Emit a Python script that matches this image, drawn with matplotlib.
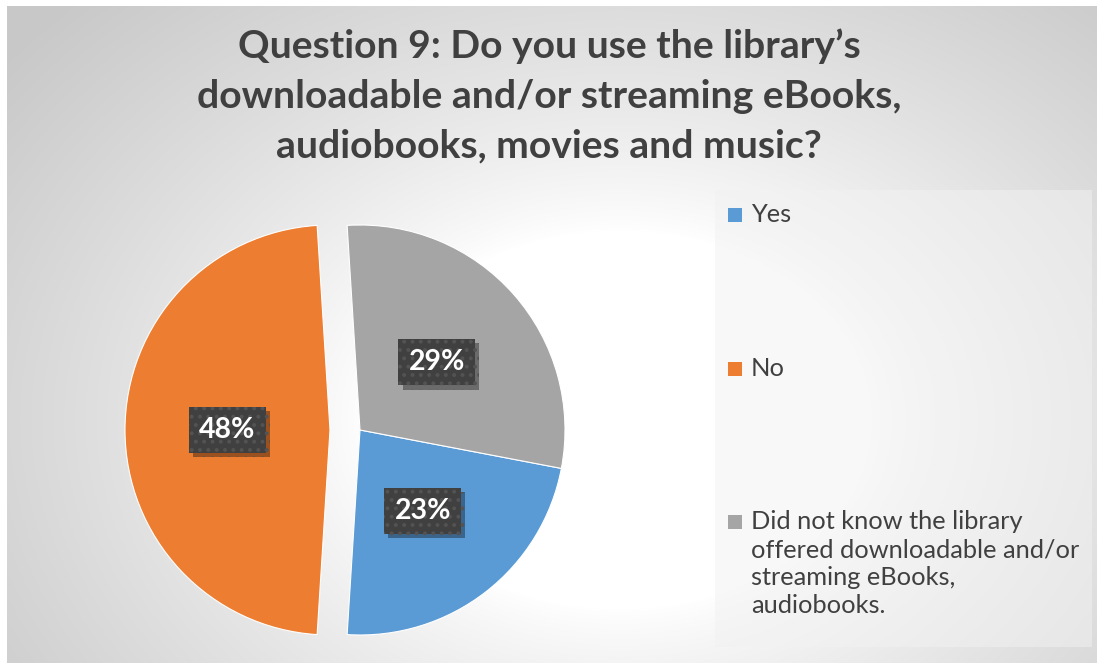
import numpy as np
import matplotlib
matplotlib.use("Agg")
import matplotlib.pyplot as plt
from matplotlib.patches import Rectangle
import matplotlib.patheffects as pe

# ---- data ----
categories = ["Yes", "No", "Did not know the library\noffered downloadable and/or\nstreaming eBooks,\naudiobooks."]
values = [23, 48, 29]
colors = ["#5B9BD5", "#ED7D31", "#A5A5A5"]
title_lines = ["Question 9: Do you use the library\u2019s",
               "downloadable and/or streaming eBooks,",
               "audiobooks, movies and music?"]

W, H = 1097, 663
plt.rcParams['font.family'] = ['Lato', 'DejaVu Sans']
plt.rcParams['hatch.linewidth'] = 1.6
fig = plt.figure(figsize=(W / 100, H / 100), dpi=100)
fig.patch.set_facecolor("white")
ax = fig.add_axes([0, 0, 1, 1])

def Y(y):
    return H - y

# background gradient (chart area from x=7, y=6 in screen px)
xs = np.arange(7, W) + 0.5
ys = np.arange(6, H) + 0.5
XX, YY = np.meshgrid(xs, ys)
r = np.sqrt(((XX - 620) / 560) ** 2 + ((YY - 420) / 420) ** 2)
t = np.clip((r - 0.45) / 0.95, 0, 1) ** 0.8
v = 1 - 0.215 * t
img = np.dstack([v, v, v])
ax.imshow(img, extent=(7, W, Y(H), Y(6)), origin="upper", zorder=0, interpolation="bilinear")

# pie
wedges, texts, autotexts = ax.pie(
    values, colors=colors, startangle=90 - 100.8, counterclock=False,
    center=(360, Y(430)), radius=205, explode=[0, 30, 0],
    autopct="%.0f%%", pctdistance=0.5,
    wedgeprops=dict(edgecolor="white", linewidth=0.8),
    textprops=dict(color="white", fontsize=20.5, fontweight="bold"),
    frame=True,
)
for at in autotexts:
    at.set_zorder(5)
    at.set_bbox(dict(boxstyle="square,pad=0.36", facecolor="#404040",
                     edgecolor="#535353", linewidth=0, hatch=".."))
    at.get_bbox_patch().set_path_effects([
        pe.SimplePatchShadow(offset=(3, -3), shadow_rgbFace="black", alpha=0.35),
        pe.Normal()])

# legend box
ax.add_patch(Rectangle((715, Y(647)), 1092 - 715, 647 - 190,
                       facecolor="#f2f2f2", alpha=0.5, edgecolor="none", zorder=2))
leg_y = [215, 369, 522]
for cat, col, yy in zip(categories, colors, leg_y):
    ax.add_patch(Rectangle((728, Y(yy + 7)), 14, 14, facecolor=col, edgecolor="none", zorder=3))
    ax.text(751, Y(yy - 12), cat, fontsize=18.3, color="#404040", va="top", ha="left",
            linespacing=1.27, zorder=3)

# title
for i, line in enumerate(title_lines):
    ax.text(549, Y(46 + 50 * i), line, fontsize=28.2, fontweight="bold", color="#404040",
            ha="center", va="center", zorder=3)

ax.set_xlim(0, W)
ax.set_ylim(0, H)
ax.set_aspect("auto")
ax.axis("off")
fig.savefig("out.png", dpi=100, facecolor="white")
